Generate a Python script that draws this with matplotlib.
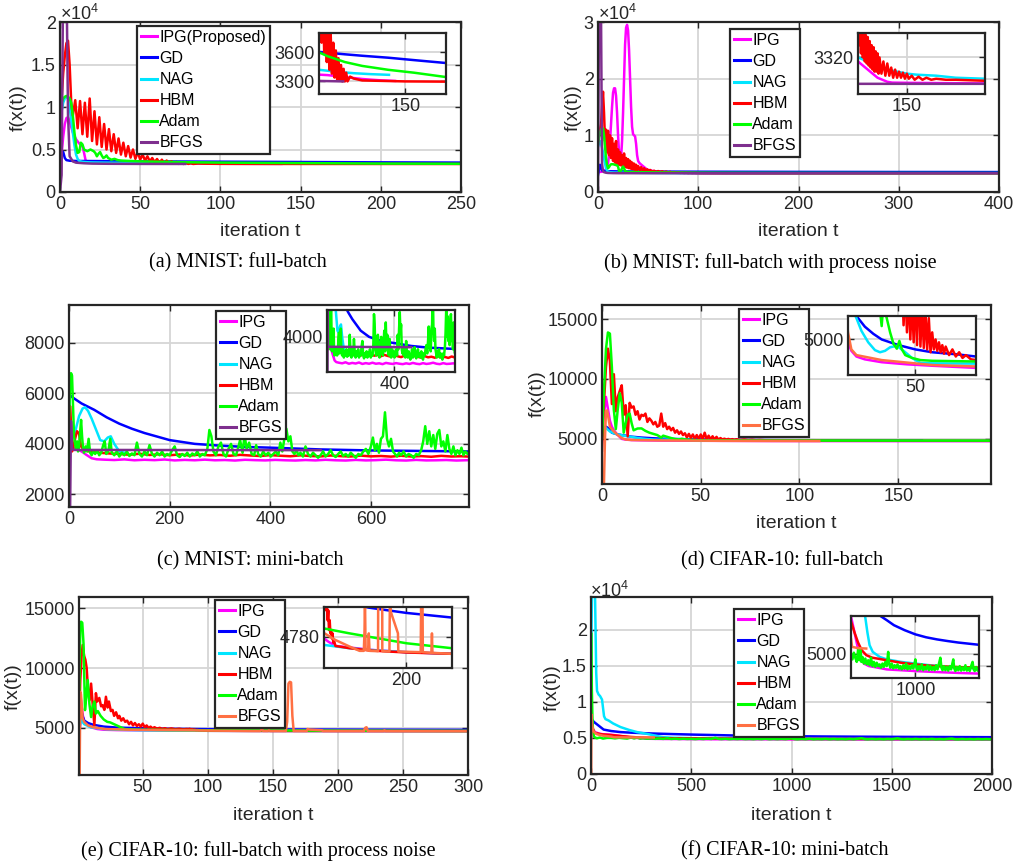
import matplotlib
matplotlib.use('Agg')
import matplotlib.pyplot as plt
from matplotlib.ticker import FuncFormatter

plt.rcParams['font.family'] = ['Liberation Sans', 'DejaVu Sans']
plt.rcParams['mathtext.fontset'] = 'custom'
plt.rcParams['mathtext.rm'] = 'Liberation Sans'

W, H = 1015, 867

# colours used in the paper figure
C_IPG = '#ff00ff'
C_GD = '#0000ff'
C_NAG = '#00e5ff'
C_HBM = '#ff0000'
C_ADAM = '#00ff00'
C_BFGS1 = '#7e2f8e'
C_BFGS2 = '#ff7043'

#------------------------------------------------------------------ (a) MNIST full-batch
a_ipg = [(0,3000),(1,4500),(2,6500),(3,8000),(4,8700),(5,8800),(6,8300),(8,7000),(10,6200),(12,5700),
         (14,5400),(15,4600),(16,3700),(18,3500),(20,3460),(25,3420),(30,3400),(40,3380),(50,3370),
         (60,3365),(70,3355),(80,3345),(90,3335),(100,3325),(110,3318),(120,3312),(130,3308),(138,3305)]
a_gd = [(0,4800),(1,4800),(2,4700),(3,4000),(4,3750),(6,3680),(10,3650),(20,3640),(50,3605),(80,3580),
        (100,3565),(130,3545),(160,3520),(197,3490),(250,3460)]
a_nag = [(0,8500),(1,9500),(2,10500),(3,11000),(4,11200),(5,11000),(6,10000),(7,8500),(8,7000),(9,5500),
         (10,4400),(11,3900),(12,3650),(14,3550),(17,3500),(20,3480),(30,3450),(50,3420),(70,3400),
         (90,3385),(110,3375),(131,3368)]
a_hbm = [(0,8500),(1,11000),(2,14000),(3,16000),(4,17500),(5,17800),(6,15000),(7,10500),(8,9000),
         (9.5,10800),(11,7500),(12.5,10700),(14,6800),(15.5,10500),(17,6500),(18.5,11000),(20,6000),
         (21.5,9500),(23,5600),(24.5,8800),(26,5300),(27.5,8000),(29,5000),(30.5,7400),(32,4800),
         (33.5,6800),(35,4600),(36.5,6300),(38,4400),(39.5,5800),(41,4200),(42.5,5400),(44,4050),
         (45.5,5000),(47,3900),(48.5,4700),(50,3800),(51.5,4400),(53,3700),(54.5,4200),(56,3600),
         (57.5,4000),(59,3500),(60.5,3880),(62,3420),(63.5,3800),(65,3380),(66.5,3700),(68,3340),
         (69.5,3620),(71,3320),(72.5,3540),(74,3310),(75.5,3470),(77,3300),(78.5,3430),(80,3300),
         (81.5,3390),(83,3300),(86,3350),(90,3330),(95,3320),(100,3310),(150,3300),(250,3295)]
a_adam = [(0,8500),(1,10500),(2,11000),(3,11200),(4,11300),(5,11200),(6,11000),(7,10500),(8,9000),(9,7000),
          (10,5500),(11,4600),(12,4700),(13,5800),(14,5600),(15,5000),(16,4900),(17,4800),(18,4900),
          (19,5000),(20,4900),(21,4800),(22,4600),(23,4200),(24,4500),(25,4700),(26,4300),(27,4000),
          (28,4100),(29,4300),(30,4000),(32,3800),(34,3900),(36,3750),(38,3700),(40,3680),(45,3640),
          (50,3600),(60,3560),(80,3500),(100,3460),(130,3420),(160,3390),(197,3345),(250,3320)]
a_bfgs = [(0,0),(1,2000),(2,26000),(4,26000),(5,9000),(6,4200),(8,3600),(10,3450),(15,3380),(20,3340),
          (30,3320),(50,3305),(78,3300)]

#------------------------------------------------------------------ (b) MNIST full-batch, process noise
b_ipg = [(0,3500),(5,3600),(8,4000),(10,5000),(11,6500),(12,9000),(13,12000),(14,15000),(15,17500),
         (16,18300),(17,18300),(18,17000),(19,14000),(20,10000),(21,7000),(22,5500),(23,6000),(24,9000),
         (25,14000),(26,20000),(27,26000),(28,29000),(29,29500),(30,28500),(31,25000),(32,20000),
         (33,15000),(34,11500),(35,10200),(36,10000),(37,9800),(38,8500),(39,6500),(40,5500),(41,5200),
         (42,5000),(44,4700),(46,4400),(48,4100),(50,3900),(55,3700),(60,3550),(70,3450),(80,3380),
         (90,3340),(100,3318),(105,3316),(110,3314),(115,3312),(120,3310),(125,3309),(130,3308),
         (135,3307.6),(150,3307.5),(200,3307.3),(300,3307),(400,3307)]
b_gd = [(0,3000),(1,4000),(2,4800),(3,4300),(4,3800),(6,3700),(10,3660),(20,3640),(50,3610),(100,3580),
        (200,3550),(300,3530),(400,3520)]
b_nag = [(0,8000),(1,8500),(2,9000),(3,8500),(4,7800),(5,7000),(6,6000),(7,5000),(8,4200),(9,3800),
         (10,3600),(12,3500),(15,3450),(20,3420),(30,3400),(50,3370),(70,3345),(90,3328),(100,3320),
         (110,3318),(120,3316),(130,3314),(140,3313),(150,3312),(160,3311.5),(180,3311),(200,3310),
         (230,3309.5),(300,3309),(400,3308.5)]
b_hbm = [(0,9000),(3,12000),(5,17700),(6,14000),(7,9000),(8,11000),(9,7000),(10,10800),(11,6500),
         (12,10000),(13,6000),(14,9500),(15,5500),(16,8500),(17,5200),(18,9000),(19,5000),(20,7500),
         (21,4800),(22,7000),(23,4700),(24,6500),(25,4500),(26,6800),(27,4400),(28,6000),(29,4300),
         (30,5800),(31,4200),(32,5500),(33,4100),(34,5200),(35,4000),(36,5000),(37,3900),(38,4800),
         (39,3850),(40,4600),(42,3800),(43,4400),(45,3750),(46,4200),(48,3700),(49,4000),(51,3650),
         (52,3900),(54,3600),(56,3750),(58,3550),(60,3700),(62,3550),(64,3650),(66,3500),(68,3600),
         (70,3460),(72,3550),(74,3430),(76,3500),(78,3400),(80,3460),(82,3380),(84,3420),(86,3365),
         (88,3400),(90,3350),(92,3380),(94,3345),(96,3370),(98,3338),(100,3345),(101,3326),(102,3340),
         (103,3322),(104,3338),(105,3320),(106,3334),(107,3318),(108,3331),(109,3317),(110,3330),
         (111,3316),(112,3328),(113,3315),(114,3326),(115,3314),(116,3325),(117,3313),(118,3323),
         (119,3313),(120,3322),(121,3312),(122,3320),(124,3312),(126,3318),(128,3311),(130,3317),
         (132,3311),(134,3315),(136,3310),(138,3314),(140,3310),(142,3313),(144,3310),(146,3312.5),
         (148,3309.5),(150,3312),(152,3309.5),(155,3311),(158,3309),(162,3310.5),(166,3309),(170,3310),
         (175,3309),(180,3309.5),(190,3309),(200,3309),(230,3308.5),(300,3308.5),(400,3308)]
b_adam = [(0,8500),(1,9500),(2,10500),(3,11000),(4,11200),(5,11200),(6,10000),(7,8000),(8,6000),(9,4800),
          (10,4200),(11,4400),(12,4700),(13,4900),(15,4900),(17,4800),(19,4700),(20,4500),(21,3700),
          (22,3650),(23,3800),(24,4200),(25,4500),(26,4200),(27,3700),(28,3600),(30,3550),(35,3520),
          (40,3500),(50,3470),(60,3450),(80,3420),(100,3400),(150,3380),(200,3370),(300,3360),(400,3350)]
b_bfgs = [(0,0),(1,32000),(3,32000),(4,5000),(5,3700),(6,3500),(8,3400),(10,3360),(15,3330),(20,3320),
          (50,3312),(100,3307),(150,3307),(400,3307)]

#------------------------------------------------------------------ (c) MNIST mini-batch
c_ipg = [(0,4500),(3,4200),(8,3850),(15,3800),(25,3700),(35,3560),(45,3430),(55,3390),(70,3375),(90,3360),
         (110,3385),(130,3350),(150,3370),(170,3355),(190,3380),(210,3345),(230,3365),(250,3350),
         (270,3375),(290,3350),(310,3360),(330,3340),(350,3370),(370,3355),(390,3345),(410,3365),
         (430,3350),(450,3340),(470,3360),(490,3345),(510,3370),(530,3350),(550,3340),(570,3365),
         (590,3345),(610,3355),(630,3375),(650,3350),(670,3340),(690,3365),(710,3345),(730,3350),
         (750,3360),(770,3340),(795,3355)]
c_gd = [(0,5950),(10,5800),(25,5600),(50,5350),(75,5050),(100,4800),(125,4600),(150,4430),(200,4150),
        (250,4000),(300,3930),(350,3880),(400,3850),(500,3780),(600,3740),(700,3720),(795,3700)]
c_nag = [(0,5900),(3,5000),(6,4400),(10,4300),(15,4700),(20,5100),(27,5400),(32,5450),(38,5300),
         (45,5000),(55,4500),(62,4150),(70,4100),(77,4250),(83,4300),(90,4000),(100,3700),(110,3650),
         (115,3640)]
c_hbm = [(0,4000),(2,5500),(4,4800),(6,3700),(8,3800),(12,4200),(16,4500),(20,4400),(24,3900),(30,3750),
         (40,3700),(50,3680),(60,3650),(80,3620),(100,3600),(120,3570),(140,3610),(160,3560),(180,3590),
         (200,3550),(220,3580),(240,3540),(260,3575),(280,3545),(300,3560),(320,3530),(340,3565),
         (360,3540),(380,3520),(400,3555),(420,3530),(440,3510),(460,3545),(480,3520),(500,3505),
         (520,3540),(540,3515),(560,3500),(580,3535),(600,3505),(620,3520),(640,3495),(660,3530),
         (680,3500),(700,3515),(720,3490),(740,3525),(760,3500),(780,3510),(795,3495)]
c_adam = [(0,5000),(2,6200),(4,6800),(6,6700),(8,5500),(10,4300),(12,4000),(14,3800),(16,4100),(18,3700),
          (20,3900),(22,4400),(24,4950),(26,4300),(28,3800),(30,3650),(33,3900),(36,3700),(39,4200),
          (42,3650),(45,3550),(48,3700),(52,3600),(56,3750),(60,3550),(64,3650),(68,3950),(71,4100),
          (74,3600),(78,3700),(82,4200),(85,3650),(90,3550),(95,3700),(100,3500),(105,3650),(110,3550),
          (115,3700),(120,3520),(125,3620),(130,3550),(135,4050),(140,3600),(145,3500),(150,3700),
          (155,3550),(160,3950),(165,3600),(170,3500),(175,3650),(180,3550),(185,3700),(190,3500),
          (195,3600),(200,3550),(205,3750),(210,3900),(215,3550),(220,3480),(225,3600),(230,3520),
          (235,3650),(240,3500),(245,3620),(250,3550),(255,3700),(260,3500),(265,3600),(270,3550),
          (275,3800),(279,4550),(283,4300),(287,3700),(292,3550),(297,3900),(302,4050),(307,3600),
          (312,3500),(317,3800),(322,4000),(327,3600),(332,3550),(337,3900),(340,4150),(345,3650),
          (349,4350),(353,3800),(358,4050),(363,3600),(368,3550),(372,3950),(376,3600),(381,3500),
          (386,3700),(391,3550),(396,3650),(401,3500),(406,3600),(411,3700),(416,3550),(420,4050),
          (424,3700),(428,4200),(432,4600),(436,4100),(440,4300),(444,3700),(448,3600),(452,3750),
          (456,3550),(460,3650),(465,3500),(470,3900),(475,3600),(480,3500),(485,3650),(490,3550),
          (495,3450),(500,3550),(505,3700),(510,3500),(515,3600),(520,3750),(525,3550),(530,3480),
          (535,3600),(540,3700),(545,3520),(550,3600),(555,3500),(560,3650),(565,3550),(570,3450),
          (575,3600),(580,3550),(585,3700),(590,3800),(595,3600),(600,3900),(604,4250),(608,3750),
          (612,4000),(616,3650),(620,4200),(624,4300),(628,5250),(632,4200),(636,3900),(640,4200),
          (644,3700),(648,3600),(652,3500),(656,3650),(660,3550),(665,3700),(670,3500),(675,3600),
          (680,3550),(685,3450),(690,3600),(695,3550),(700,3750),(704,4100),(708,4700),(712,4000),
          (716,4500),(720,3900),(724,4350),(728,3800),(732,4400),(736,4550),(740,3900),(744,4100),
          (748,3700),(752,4350),(756,3800),(760,3600),(764,3900),(768,3550),(772,3750),(776,3600),
          (780,3850),(784,3550),(788,3700),(792,3600),(795,3650)]
c_bfgs = [(0,1000),(2,1000),(4,4900),(6,3800),(10,3760),(500,3750)]

#------------------------------------------------------------------ (d) CIFAR-10 full-batch
d_ipg = [(0,6000),(1,7000),(2,8500),(3,7500),(4,6500),(5,6000),(6,5700),(8,5300),(10,4980),(12,4920),
         (15,4880),(20,4860),(30,4840),(45,4825),(60,4815),(86,4800),(120,4795),(160,4790),(197,4790)]
d_gd = [(0,5000),(1,5800),(2,6000),(3,5900),(5,5500),(8,5350),(12,5250),(15,5165),(20,5090),(25,5040),
        (30,5000),(40,4960),(50,4930),(60,4910),(75,4895),(86,4880),(120,4860),(162,4850)]
d_nag = [(0,5500),(1,6000),(2,5900),(4,5600),(6,5450),(8,5350),(10,5280),(13,5200),(15,5150),(18,5060),
         (22,4980),(26,4925),(29,4910),(32,4920),(35,4945),(39,4955),(43,4920),(48,4870),(53,4835),
         (60,4832),(86,4830),(120,4825),(197,4820)]
d_hbm = [(0,4000),(1,8000),(2,11000),(3,12540),(4,11500),(5,7900),(6,10400),(7,7300),(8,8500),(9,9000),
         (10,9470),(11,7000),(12,7800),(13,5200),(14,8000),(15,7600),(16,7700),(17,7000),(18,7300),
         (19,6600),(20,7000),(21,6900),(22,7100),(23,6400),(24,6700),(25,6500),(26,6200),(27,6400),
         (28,6000),(29,6100),(30,7100),(31,6000),(32,6300),(33,5800),(34,6000),(35,5700),(36,5900),
         (37,5500),(38,5700),(39,5400),(40,5600),(41,5300),(42,5450),(43,5100),(44,5400),(45,5050),
         (46,5350),(47,5000),(48,5300),(49,4980),(50,5350),(51,4960),(52,5500),(53,4950),(54,5250),
         (55,4940),(56,5200),(57,4930),(58,5150),(59,4910),(60,5050),(61,4930),(62,5000),(63,4920),
         (64,4980),(65,4910),(66,4960),(67,4900),(68,4950),(70,4890),(72,4930),(74,4880),(76,4910),
         (78,4870),(80,4890),(83,4860),(86,4855),(100,4840),(130,4830),(197,4820)]
d_adam = [(0,5000),(1,9000),(2,12500),(3,13900),(4,13800),(5,11000),(6,7400),(7,5800),(8,7500),(9,8800),
          (10,8000),(11,5500),(12,6300),(13,7000),(14,7100),(15,6300),(16,5700),(18,5850),(20,5860),
          (22,5650),(24,5500),(26,5400),(28,5300),(29,5200),(30,5094),(31,5250),(33,5150),(35,5050),
          (37,4970),(39,4935),(40.5,4990),(42,4930),(44,4890),(48,4870),(53,4855),(60,4850),(86,4845),
          (120,4840),(197,4835)]
d_bfgs = [(0,1200),(1,1200),(1.5,5000),(2,7300),(2.6,7370),(3,7000),(4,6000),(6,5600),(8,5300),
          (10,5050),(12,4930),(15,4890),(30,4855),(60,4820),(86,4810),(110,4800)]

#------------------------------------------------------------------ (e) CIFAR-10 full-batch, process noise
e_ipg = [(1,4000),(1.5,8000),(2,7900),(3,6800),(4,6000),(5,5600),(7,5300),(10,5050),(15,4900),(20,4840),
         (30,4810),(50,4790),(84,4775),(90,4765),(100,4752),(150,4740),(200,4733),(264,4728),(300,4726)]
e_gd = [(1,4000),(2,5500),(3,6300),(4,5900),(5,5600),(8,5400),(12,5250),(20,5100),(30,5020),(50,4960),
        (70,4920),(100,4890),(147,4868),(200,4852),(264,4838),(300,4832)]
e_nag = [(1,4500),(2,5800),(3,5600),(5,5300),(10,5050),(20,4900),(30,4840),(50,4790),(84,4755),
         (120,4745),(160,4738),(200,4733),(264,4728),(300,4726)]
e_hbm = [(1,5000),(2,9000),(3,11000),(3.8,11930),(5,11000),(5.9,10700),(6.9,10000),(8,8000),(9,7300),
         (10.3,8700),(11.5,7000),(12.8,5200),(14,7900),(15,7200),(16.6,7500),(18,6800),(19.1,6900),
         (20.5,6500),(21.7,7600),(23,6700),(24,7200),(25.5,6400),(26.8,6500),(28,6000),(29.5,6300),
         (31,5800),(32,6000),(33.5,5600),(35,5800),(36.5,5500),(38,5600),(39.5,5300),(41,5500),
         (42.5,5200),(44,5400),(45.5,5150),(47,5300),(48.5,5100),(50,5350),(51.5,5050),(53,5200),
         (54.5,4980),(56,5100),(57.5,4950),(59,5050),(61,4930),(63,5000),(65,4910),(67,4970),(69,4890),
         (72,4950),(75,4880),(78,4920),(81,4870),(84,4900),(85,4880),(86,4920),(87,4860),(88,4890),
         (89,4830),(90,4860),(91,4800),(92,4830),(93,4790),(94,4800),(95,4775),(96,4790),(97,4762),
         (98,4770),(100,4752),(120,4745),(150,4738),(200,4732),(264,4728),(300,4726)]
e_adam = [(1,5000),(1.5,10000),(2,13500),(2.6,13880),(3.5,13800),(4.5,12000),(5.6,6480),(6.5,7500),
          (7.7,9000),(9,7000),(10.3,5900),(11.5,6800),(12.8,7200),(14,6200),(15.5,6400),(17.6,6000),
          (20,5700),(22.7,5500),(25,5450),(28,5300),(32,5100),(36,4900),(40,4870),(50,4840),(70,4815),
          (84,4805),(120,4790),(160,4775),(200,4760),(264,4745),(300,4738)]
e_bfgs = [(1,1050),(1.5,1050),(2,8000),(2.5,7800),(3.8,5800),(5,5500),(8,5200),(12,5050),(21,4900),
          (40,4840),(60,4815),(84,4791),(100,4770),(120,4750),(134,4737),(140,4737),(141,4800),
          (141.6,4900),(142.5,4740),(146,4738),(147,4790),(148,4737),(160,4736),(161,5500),(162,8700),
          (163,8850),(164,8800),(165,6000),(166,4736),(176,4735),(176.7,4900),(178,4855),(188,4790),
          (188.5,4735),(220,4733),(221,5000),(222,5050),(223,4733),(235,4731),(235.8,4790),
          (236.5,4731),(264,4728),(300,4726)]

#------------------------------------------------------------------ (f) CIFAR-10 mini-batch
f_ipg = [(0,7500),(5,6800),(10,6200),(20,5800),(40,5600),(60,5500),(100,5445),(150,5250),(200,5050),
         (250,4950),(280,4880),(350,4850),(450,4835),(600,4810),(800,4800),(1000,4790),(1200,4782),
         (1400,4775),(1600,4768),(1890,4760),(2000,4758)]
f_gd = [(0,5000),(5,7500),(15,7200),(30,6870),(63,6150),(100,5950),(147,5800),(200,5720),(313,5600),
        (400,5530),(512,5450),(600,5400),(700,5340),(850,5280),(1000,5230),(1150,5195),(1300,5170),
        (1450,5150),(1600,5132),(1750,5118),(1890,5105),(2000,5095)]
f_nag = [(0,15000),(5,25000),(20,25000),(26,14000),(30,11500),(38,11000),(45,10800),(55,10300),
         (65,8000),(72,7600),(80,7500),(88,7400),(110,7000),(147,6500),(190,6100),(230,5800),
         (280,5550),(297,5450),(330,5250),(360,5100),(404,5020),(500,4960),(600,4930),(800,4900),
         (1000,4880),(1200,4860),(1400,4845),(1600,4835),(1800,4825),(2000,4820)]
f_hbm = [(0,9000),(5,7000),(10,6200),(17,5700),(50,5500),(100,5385),(150,5250),(200,5130),(250,5040),
         (315,4980),(400,4950),(500,4935),(600,4920),(700,4905),(800,4890),(900,4880),(1000,4870),
         (1100,4862),(1200,4855),(1300,4850),(1400,4845),(1500,4842),(1600,4838),(1700,4836),
         (1800,4834),(1900,4832),(2000,4830)]
f_adam = [(0,19500),(2,19470),(4,12000),(7,8000),(10,5850),(15,5200),(20,5050),(30,4950),(45,5050),
          (60,4900),(80,5000),(100,5000),(120,4930),(140,5010),(160,4950),(180,4900),(200,5050),
          (215,4920),(230,5040),(245,4900),(260,4960),(280,4880),(300,4940),(320,4870),(340,4920),
          (360,4860),(380,4950),(400,4850),(420,4900),(440,4840),(460,4890),(480,4850),(500,4870),
          (520,4830),(540,4880),(560,4840),(580,4900),(600,4850),(620,5020),(635,4870),(650,4830),
          (670,4880),(690,4820),(710,4860),(730,4830),(750,4870),(770,4820),(790,4850),(810,4810),
          (830,4860),(850,4820),(870,4880),(890,4810),(910,4850),(930,4815),(950,4860),(970,4820),
          (985,4870),(1000,4930),(1015,4830),(1030,4800),(1050,4850),(1070,4810),(1090,4870),
          (1110,4800),(1130,4840),(1150,4810),(1170,4860),(1190,4800),(1210,4850),(1230,4805),
          (1250,4840),(1270,4800),(1290,4860),(1310,4810),(1330,4880),(1350,4950),(1365,4830),
          (1380,4800),(1400,4850),(1420,4800),(1440,4840),(1460,4795),(1480,4850),(1500,4810),
          (1515,4870),(1530,4930),(1545,4820),(1560,4790),(1580,4840),(1600,4800),(1620,4850),
          (1640,4795),(1660,4835),(1680,4800),(1700,4860),(1720,4795),(1740,4830),(1760,4790),
          (1780,4850),(1800,4900),(1815,4810),(1830,4790),(1850,4840),(1870,4795),(1890,4830),
          (1910,4790),(1930,4840),(1950,4800),(1970,4830),(2000,4800)]
f_bfgs = [(0,0),(1,0),(2,8240),(5,7000),(10,6000),(20,5700),(30,5500),(60,5300),(100,5180),(115,5080),
          (200,5065),(313,5060)]

labels_a = ['IPG(Proposed)', 'GD', 'NAG', 'HBM', 'Adam', 'BFGS']
labels = ['IPG', 'GD', 'NAG', 'HBM', 'Adam', 'BFGS']
cols1 = [C_IPG, C_GD, C_NAG, C_HBM, C_ADAM, C_BFGS1]
cols2 = [C_IPG, C_GD, C_NAG, C_HBM, C_ADAM, C_BFGS2]


def box(l, t, r, b):
    return [l / W, 1 - b / H, (r - l) / W, (b - t) / H]


def style(ax, xlim, ylim, xt, yt):
    ax.set_xlim(xlim)
    ax.set_ylim(ylim)
    ax.set_xticks(xt)
    ax.set_yticks(yt)
    ax.set_axisbelow(True)
    ax.grid(True, color='#d6d6d6', lw=1.3)
    ax.tick_params(direction='in', length=4, width=1, top=True, right=True,
                   labelsize=13, colors='#262626', pad=3)
    for s in ax.spines.values():
        s.set_linewidth(1.6)
        s.set_color('#262626')


def draw(ax, series, cols):
    lines = []
    for pts, c in zip(series, cols):
        x, y = zip(*pts)
        ln, = ax.plot(x, y, color=c, lw=1.8)
        lines.append(ln)
    return lines


def panel(fig, mbox, ibox, series, cols, labs, lim, ilim, legpos):
    ax = fig.add_axes(box(*mbox))
    lines = draw(ax, series, cols)
    style(ax, *lim)
    ins = fig.add_axes(box(*ibox))
    ins.set_facecolor('white')
    draw(ins, series, cols)
    style(ins, *ilim)
    leg = ax.legend(lines, labs, loc='upper left',
                    bbox_to_anchor=(legpos[0] / W, 1 - legpos[1] / H),
                    bbox_transform=fig.transFigure, fontsize=11.5, frameon=True,
                    fancybox=False, framealpha=1, edgecolor='#262626', borderpad=0.25,
                    handlelength=1.0, handletextpad=0.15, labelspacing=0.38, borderaxespad=0)
    leg.get_frame().set_linewidth(1.6)
    for h in leg.get_lines():
        h.set_linewidth(2.2)
    return ax


fig = plt.figure(figsize=(W / 100, H / 100), dpi=100)

e4 = FuncFormatter(lambda v, p: '%g' % (v / 1e4))

ax = panel(fig, (60, 22, 461, 192), (319, 33, 446, 94),
           [a_ipg, a_gd, a_nag, a_hbm, a_adam, a_bfgs], cols1, labels_a,
           ((0, 250), (0, 20000), range(0, 251, 50), range(0, 20001, 5000)),
           ((50, 197), (3170, 3800), [150], [3300, 3600]), (137, 26))
ax.yaxis.set_major_formatter(e4)

ax = panel(fig, (598, 22, 999, 192), (858, 33, 985, 94),
           [b_ipg, b_gd, b_nag, b_hbm, b_adam, b_bfgs], cols1, labels,
           ((0, 400), (0, 30000), range(0, 401, 100), range(0, 30001, 10000)),
           ((100, 230), (3302, 3332), [150], [3320]), (730, 29))
ax.yaxis.set_major_formatter(e4)

panel(fig, (69, 305, 469, 507), (327, 310, 455, 372),
      [c_ipg, c_gd, c_nag, c_hbm, c_adam, c_bfgs], cols1, labels,
      ((0, 795), (1500, 9500), [0, 200, 400, 600], [2000, 4000, 6000, 8000]),
      ((0, 760), (3150, 4650), [400], [4000]), (216, 311))

panel(fig, (602, 305, 991, 484), (848, 316, 976, 375),
      [d_ipg, d_gd, d_nag, d_hbm, d_adam, d_bfgs], cols2, labels,
      ((0, 197), (1200, 16200), [0, 50, 100, 150], [5000, 10000, 15000]),
      ((10, 86), (4750, 5165), [50], [5000]), (739, 309))

panel(fig, (79, 597, 468, 775), (324, 607, 452, 668),
      [e_ipg, e_gd, e_nag, e_hbm, e_adam, e_bfgs], cols2, labels,
      ((1, 300), (1050, 15950), range(50, 301, 50), [5000, 10000, 15000]),
      ((84, 264), (4685, 4870), [200], [4780]), (215, 600))

ax = panel(fig, (591, 597, 992, 774), (851, 616, 979, 678),
           [f_ipg, f_gd, f_nag, f_hbm, f_adam, f_bfgs], cols2, labels,
           ((0, 2000), (0, 24500), range(0, 2001, 500), range(0, 20001, 5000)),
           ((100, 1890), (4707, 5450), [1000], [5000]), (734, 609))
ax.yaxis.set_major_formatter(e4)

# exponent labels
for x, y in [(60, 20), (598, 20), (590, 597)]:
    fig.text(x / W, 1 - y / H, r'$\mathregular{\times10^{4}}$', fontsize=13, color='#262626')

# axis labels
for x, y in [(18, 108), (573, 108), (537, 394), (13, 687), (552, 688)]:
    fig.text(x / W, 1 - y / H, 'f(x(t))', rotation=90, ha='center', va='center',
             fontsize=14, color='#262626')
for x, y in [(260, 232), (798, 232), (796, 524), (273, 815), (791, 815)]:
    fig.text(x / W, 1 - y / H, 'iteration t', ha='center', va='center',
             fontsize=14, color='#262626')

# sub-captions
caps = [('(a) MNIST: full-batch', 238, 263), ('(b) MNIST: full-batch with process noise', 770, 263),
        ('(c) MNIST: mini-batch', 250, 561), ('(d) CIFAR-10: full-batch', 782, 561),
        ('(e) CIFAR-10: full-batch with process noise', 258, 851), ('(f) CIFAR-10: mini-batch', 785, 851)]
for t, x, y in caps:
    fig.text(x / W, 1 - y / H, t, ha='center', va='center', fontsize=14.5,
             family=['Liberation Serif', 'DejaVu Serif'])

fig.savefig('out.png', dpi=100)
